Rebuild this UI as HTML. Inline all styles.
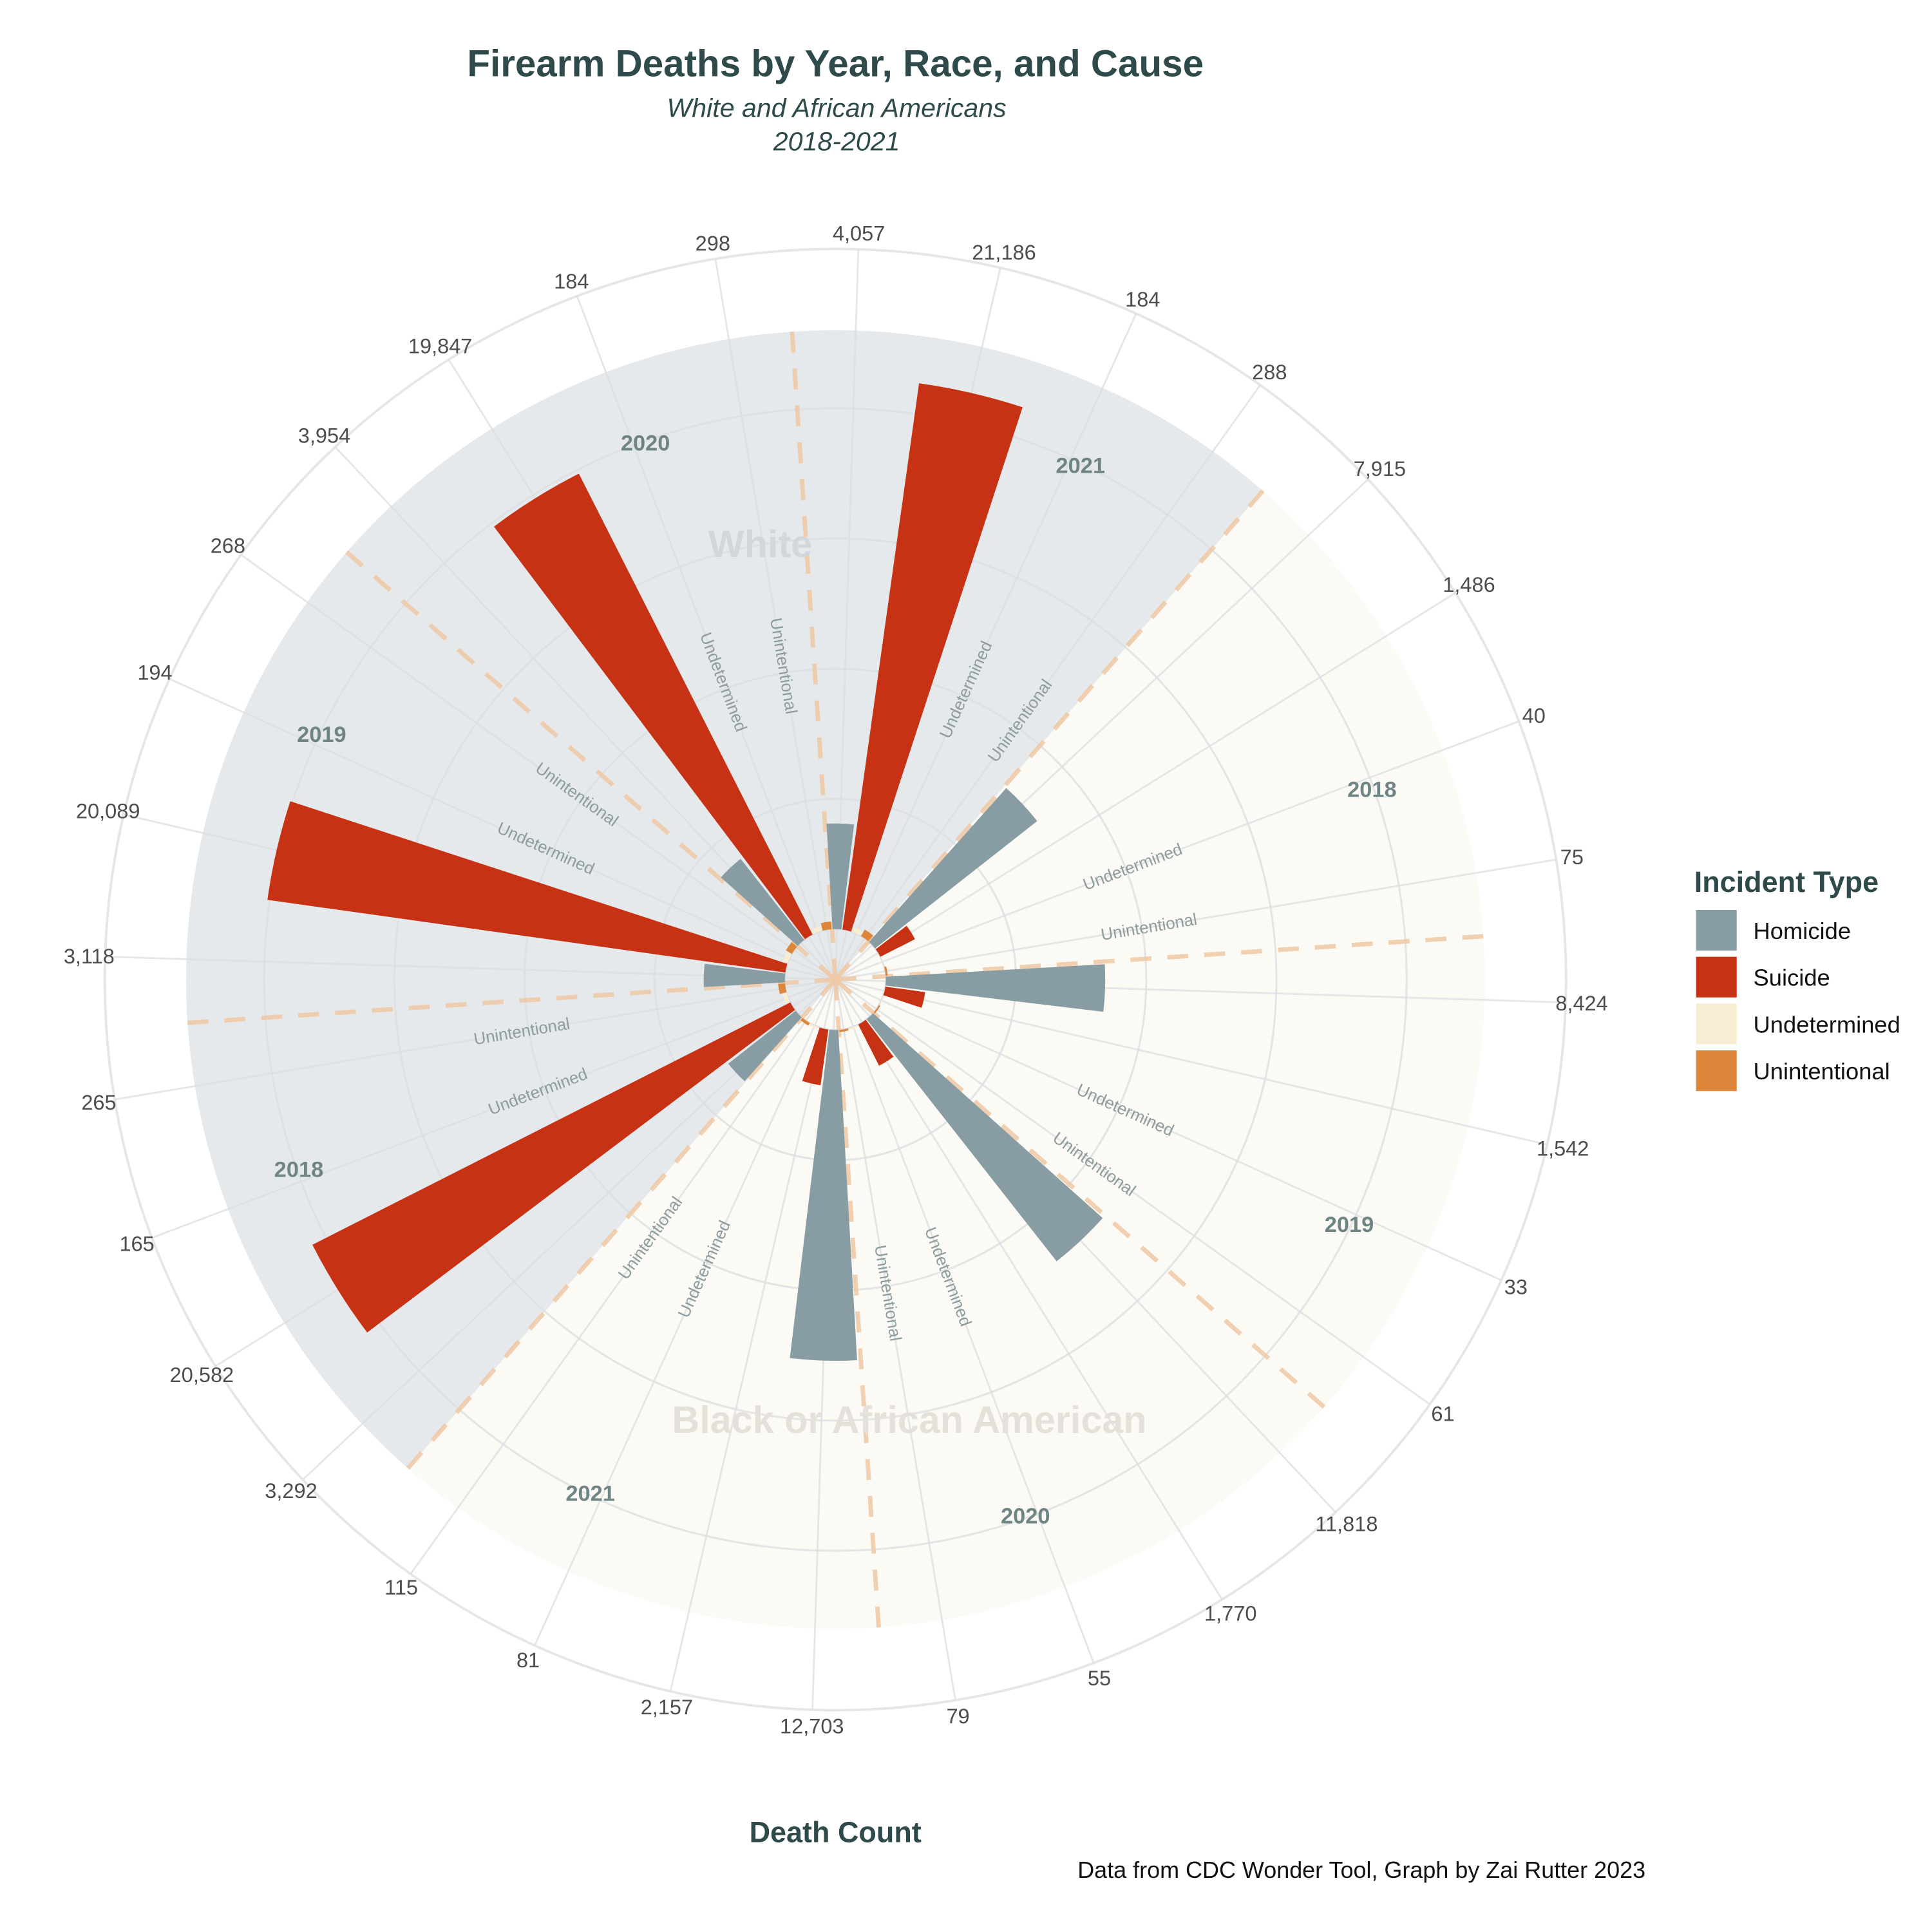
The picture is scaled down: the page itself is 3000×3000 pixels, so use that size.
<!DOCTYPE html>
<html><head><meta charset="utf-8">
<style>
html,body{margin:0;padding:0;background:#fff;}
svg{display:block;font-family:"Liberation Sans",sans-serif;}
</style></head>
<body>
<svg id="chart" width="3000" height="3000" viewBox="0 0 1568 1568" xmlns="http://www.w3.org/2000/svg">
<text x="678" y="62" text-anchor="middle" font-size="30.5" font-weight="bold" fill="#2e4a4a">Firearm Deaths by Year, Race, and Cause</text>
<text x="679" y="95" text-anchor="middle" font-size="21.5" font-style="italic" fill="#2e4a4a">White and African Americans</text>
<text x="679" y="122" text-anchor="middle" font-size="21.5" font-style="italic" fill="#2e4a4a">2018-2021</text>
<g id="plot"></g>
<text x="678" y="1495" text-anchor="middle" font-size="23.5" font-weight="bold" fill="#2e4a4a">Death Count</text>
<text x="1105" y="1524" text-anchor="middle" font-size="18.8" fill="#111">Data from CDC Wonder Tool, Graph by Zai Rutter 2023</text>
<g id="legend">
<text x="1375" y="724" font-size="23.5" font-weight="bold" fill="#2e4a4a">Incident Type</text>
</g>
</svg>
<script>
const causes = ["Homicide","Suicide","Undetermined","Unintentional"];
const years = ["2021","2018","2019","2020","2021","2018","2019","2020"];
const races = ["White","Black","Black","Black","Black","White","White","White"];
const values = [4057,21186,184,288, 7915,1486,40,75, 8424,1542,33,61, 11818,1770,55,79, 12703,2157,81,115, 3292,20582,165,265, 3118,20089,194,268, 3954,19847,184,298];
const tickLabels = ["4,057","21,186","184","288","7,915","1,486","40","75","8,424","1,542","33","61","11,818","1,770","55","79","12,703","2,157","81","115","3,292","20,582","165","265","3,118","20,089","194","268","3,954","19,847","184","298"];
const gridValues = [5000,10000,15000,20000];
const legendItems = ["Homicide","Suicide","Undetermined","Unintentional"];

const NS="http://www.w3.org/2000/svg";
const colors={Homicide:"#889da3",Suicide:"#c83214",Undetermined:"#f8ecd2",Unintentional:"#dc853b"};
const cx=678, cy=795, hole=41, k=0.02113, bgR=527, ringR=593;
const n=values.length, step=360/n, start=1.8;
function rScale(v){return hole+v*k;}
function ang(i){return start+i*step;}
function pt(r,a){const t=a*Math.PI/180;return [cx+r*Math.sin(t),cy-r*Math.cos(t)];}
const plot=document.getElementById('plot');
function mk(tag,attrs,parent){const e=document.createElementNS(NS,tag);for(const a in attrs)e.setAttribute(a,attrs[a]);(parent||plot).appendChild(e);return e;}
function wedgePath(r0,r1,a0,a1){
  const p0=pt(r1,a0),p1=pt(r1,a1),p2=pt(r0,a1),p3=pt(r0,a0);
  const lg=(a1-a0)>180?1:0;
  return `M${p0[0]},${p0[1]} A${r1},${r1} 0 ${lg} 1 ${p1[0]},${p1[1]} L${p2[0]},${p2[1]} A${r0},${r0} 0 ${lg} 0 ${p3[0]},${p3[1]} Z`;
}
const bStart=start-step/2+4*step;
let e=mk('path',{d:wedgePath(0.01,bgR,bStart-180,bStart),fill:"#e6e9ec"});


e=mk('path',{d:wedgePath(0.01,bgR,bStart,bStart+180),fill:"#fcfaf5"});


gridValues.forEach(v=>{
  const c=mk('circle',{cx,cy,r:rScale(v),fill:"none",stroke:"#dcdfe2","stroke-width":1.6,opacity:0.8});
  
  
});
e=mk('circle',{cx,cy,r:ringR,fill:"none",stroke:"#e6e6e6","stroke-width":2});


e=mk('circle',{cx,cy,r:hole,fill:"none",stroke:"#d9dcdf","stroke-width":1.5});


for(let i=0;i<n;i++){
  const p=pt(ringR,ang(i));
  const s=mk('line',{x1:cx,y1:cy,x2:p[0],y2:p[1],stroke:"#dcdfe2","stroke-width":1.5,opacity:0.75});
  
  
}
for(let g=0;g<8;g++){
  const a=bStart+g*45;
  const p=pt(bgR,a);
  const l=mk('line',{x1:cx,y1:cy,x2:p[0],y2:p[1],stroke:"#efc9a4","stroke-width":3.6,"stroke-dasharray":"17 13",opacity:0.85});
  
  
}
const half=step*0.9/2;
for(let i=0;i<n;i++){
  const cause=causes[i%4];
  const a=ang(i);
  const b=mk('path',{d:wedgePath(hole,rScale(values[i]),a-half,a+half),fill:colors[cause]});
  
  
}
for(let i=0;i<n;i++){
  const p=pt(606,ang(i));
  const t=mk('text',{x:p[0],y:p[1]+6,"text-anchor":"middle","font-size":17,fill:"#4d4d4d"});
  t.textContent=tickLabels[i];
  
  
}
for(let i=0;i<n;i++){
  const cause=causes[i%4];
  if(cause!=="Undetermined"&&cause!=="Unintentional")continue;
  const a=ang(i);
  const p=pt(258,a);
  const rot=(a%360)<180?a-90:a-270;
  const t=mk('text',{x:p[0],y:p[1],"text-anchor":"middle","dominant-baseline":"central","font-size":13.5,fill:"#8d9c9c",transform:`rotate(${rot} ${p[0]} ${p[1]})`});
  t.textContent=cause;
  
  
}
for(let g=0;g<8;g++){
  const a=ang(g*4+2)+1.2;
  const p=pt(462,a);
  const t=mk('text',{x:p[0],y:p[1]+6,"text-anchor":"middle","font-size":18,"font-weight":"bold",fill:"#6f8585"});
  t.textContent=years[g];
  
  
}
e=mk('text',{x:617,y:452,"text-anchor":"middle","font-size":31,"font-weight":"bold",fill:"#d2d7db"});
e.textContent="White";


e=mk('text',{x:738,y:1163,"text-anchor":"middle","font-size":31,"font-weight":"bold",fill:"#e5e1da"});
e.textContent="Black or African American";


const lg=document.getElementById('legend');
legendItems.forEach((name,j)=>{
  const y=738+j*38;
  const r=mk('rect',{x:1376,y:y,width:34,height:34,fill:colors[name],stroke:"#fff","stroke-width":1},lg);
  
  
  const t=mk('text',{x:1423,y:y+24,"font-size":19,fill:"#111"},lg);
  t.textContent=name;
  
  
});
</script>
</body></html>
